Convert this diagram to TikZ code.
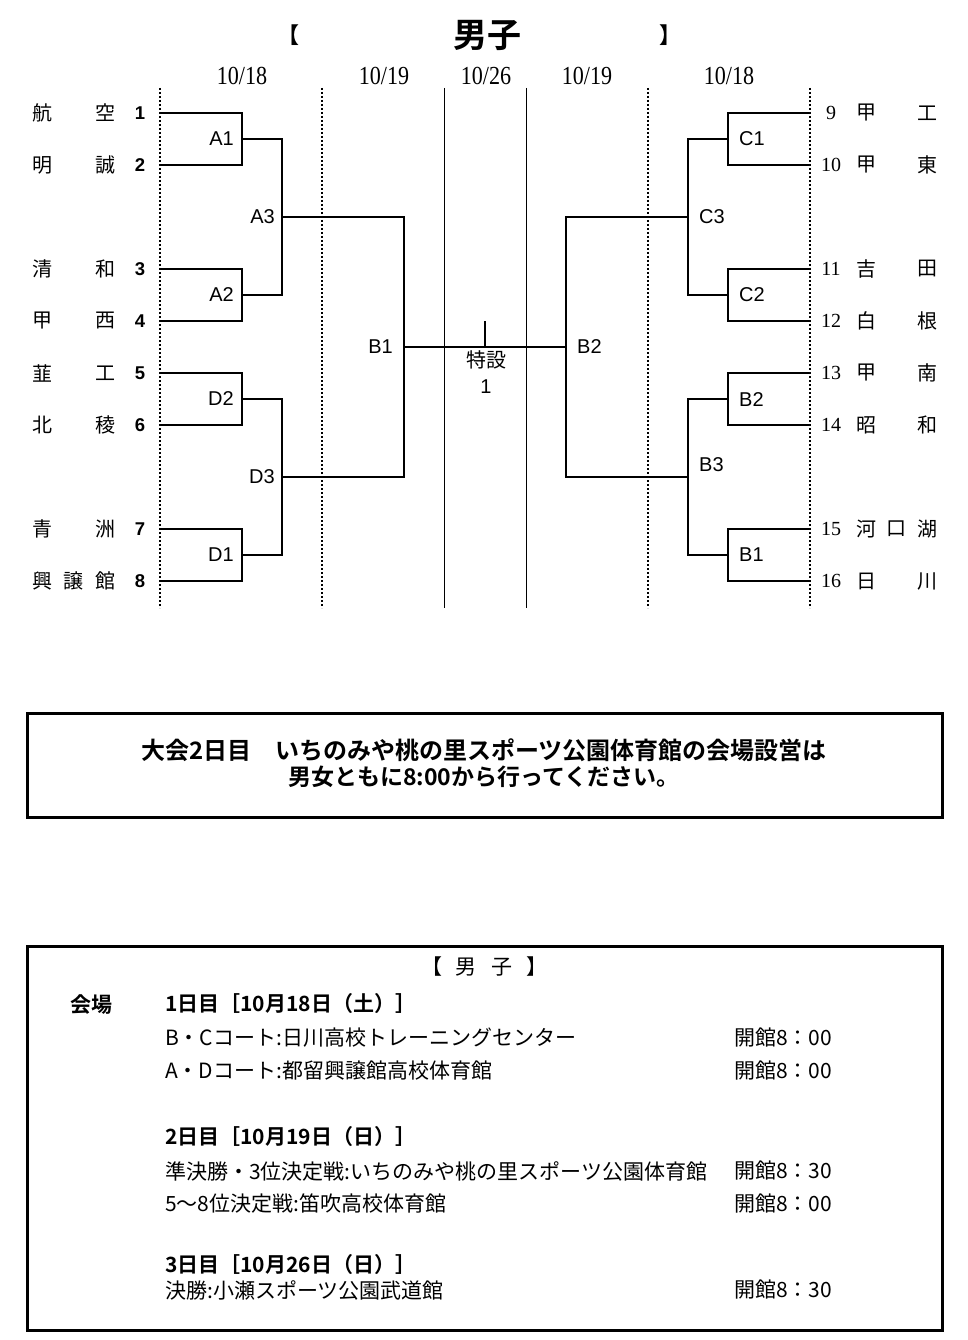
\documentclass[tikz,border=0pt]{standalone}
\usepackage{fontspec}
\setmainfont{Liberation Serif}
\setsansfont{Liberation Sans}
\newfontfamily\jp{Noto Sans CJK JP}
\newfontfamily\jpb{Noto Sans CJK JP Bold}
\begin{document}
\begin{tikzpicture}[x=1pt,y=-1pt,
  br/.style={line width=2.5pt},
  dotln/.style={line width=2pt, dash pattern=on 2pt off 2pt},
  thinln/.style={line width=1pt},
  team/.style={font=\jp\fontsize{20}{20}\selectfont, inner sep=0pt},
  numL/.style={font=\sffamily\bfseries\fontsize{18.5}{18.5}\selectfont, inner sep=0pt},
  numR/.style={font=\rmfamily\fontsize{20}{20}\selectfont, inner sep=0pt},
  lab/.style={font=\sffamily\fontsize{20}{20}\selectfont, inner sep=0pt},
  datel/.style={font=\rmfamily\fontsize{26}{26}\selectfont, inner sep=0pt},
  boxtxt/.style={font=\jpb\fontsize{23}{27}\selectfont, inner sep=0pt, align=center},
  body/.style={font=\jp\fontsize{21}{21}\selectfont, inner sep=0pt, anchor=west},
  head/.style={font=\jpb\fontsize{21}{21}\selectfont, inner sep=0pt, anchor=west},
  frame/.style={line width=3pt}
]
\useasboundingbox (0,0) rectangle (968,1340);

% title
\node[font=\jpb\fontsize{22}{22}\selectfont, inner sep=0pt] (tl) at (288,35) {【};
\node[font=\jpb\fontsize{34}{34}\selectfont, inner sep=0pt] (title) at (487,35) {男子};
\node[font=\jpb\fontsize{22}{22}\selectfont, inner sep=0pt] (tr) at (670,35) {】};

% dates
\node[datel] (d1) at (242,76) {\scalebox{0.85}[1]{10/18}};
\node[datel] (d2) at (384,76) {\scalebox{0.85}[1]{10/19}};
\node[datel] (d3) at (486,76) {\scalebox{0.85}[1]{10/26}};
\node[datel] (d4) at (587,76) {\scalebox{0.85}[1]{10/19}};
\node[datel] (d5) at (729,76) {\scalebox{0.85}[1]{10/18}};

% column separators
\coordinate (v1t) at (160,88); \coordinate (v1b) at (160,608);
\coordinate (v2t) at (322,88); \coordinate (v2b) at (322,608);
\coordinate (v3t) at (444,88); \coordinate (v3b) at (444,608);
\coordinate (v4t) at (526,88); \coordinate (v4b) at (526,608);
\coordinate (v5t) at (648,88); \coordinate (v5b) at (648,608);
\coordinate (v6t) at (810,88); \coordinate (v6b) at (810,608);
\draw[dotln] (v1t) -- (v1b);
\draw[dotln] (v2t) -- (v2b);
\draw[thinln] (v3t) -- (v3b);
\draw[thinln] (v4t) -- (v4b);
\draw[dotln] (v5t) -- (v5b);
\draw[dotln] (v6t) -- (v6b);

% left teams
\foreach \n/\y/\a/\b in {1/113/航/空, 2/165/明/誠, 3/269/清/和, 4/321/甲/西, 5/373/韮/工, 6/425/北/稜, 7/529/青/洲, 8/581/興/館}{
  \node[team] (L\n a) at (42,\y) {\a};
  \node[team] (L\n b) at (105,\y) {\b};
  \node[numL] (L\n) at (140,\y) {\n};
  \coordinate (p\n) at (160,\y);
}
\node[team] (L8m) at (73,581) {譲};

% right teams
\foreach \n/\y/\a/\b in {9/113/甲/工, 10/165/甲/東, 11/269/吉/田, 12/321/白/根, 13/373/甲/南, 14/425/昭/和, 15/529/河/湖, 16/581/日/川}{
  \node[numR] (R\n) at (831,\y) {\n};
  \node[team] (R\n a) at (866,\y) {\a};
  \node[team] (R\n b) at (927,\y) {\b};
  \coordinate (p\n) at (810,\y);
}
\node[team] (R15m) at (896,529) {口};

% match points
\coordinate (mA1) at (242,139);
\coordinate (mA2) at (242,295);
\coordinate (mD2) at (242,399);
\coordinate (mD1) at (242,555);
\coordinate (mA3) at (282,217);
\coordinate (mD3) at (282,477);
\coordinate (mB1) at (404,347);
\coordinate (mC1) at (728,139);
\coordinate (mC2) at (728,295);
\coordinate (mB2s) at (728,399);
\coordinate (mB1s) at (728,555);
\coordinate (mC3) at (688,217);
\coordinate (mB3) at (688,477);
\coordinate (mB2) at (566,347);
\coordinate (tick) at (485,321);

% left bracket
\draw[br] (p1) -| (mA1) |- (p2);
\draw[br] (p3) -| (mA2) |- (p4);
\draw[br] (p5) -| (mD2) |- (p6);
\draw[br] (p7) -| (mD1) |- (p8);
\draw[br] (mA1) -| (mA3) |- (mA2);
\draw[br] (mD2) -| (mD3) |- (mD1);
\draw[br] (mA3) -| (mB1) |- (mD3);
% right bracket
\draw[br] (p9) -| (mC1) |- (p10);
\draw[br] (p11) -| (mC2) |- (p12);
\draw[br] (p13) -| (mB2s) |- (p14);
\draw[br] (p15) -| (mB1s) |- (p16);
\draw[br] (mC1) -| (mC3) |- (mC2);
\draw[br] (mB2s) -| (mB3) |- (mB1s);
\draw[br] (mC3) -| (mB2) |- (mB3);
% final
\draw[br] (mB1) -- (mB2);
\draw[line width=2pt] (tick) -- (tick |- mB1);

% labels
\node[lab, anchor=east] (lA1) at (234,139) {A1};
\node[lab, anchor=east] (lA2) at (234,295) {A2};
\node[lab, anchor=east] (lA3) at (275,217) {A3};
\node[lab, anchor=east] (lD2) at (234,399) {D2};
\node[lab, anchor=east] (lD1) at (234,555) {D1};
\node[lab, anchor=east] (lD3) at (275,477) {D3};
\node[lab, anchor=east] (lB1) at (393,347) {B1};
\node[lab, anchor=west] (lB2) at (577,347) {B2};
\node[lab, anchor=west] (lC1) at (739,139) {C1};
\node[lab, anchor=west] (lC2) at (739,295) {C2};
\node[lab, anchor=west] (lC3) at (699,217) {C3};
\node[lab, anchor=west] (lB2s) at (739,400) {B2};
\node[lab, anchor=west] (lB1s) at (739,555) {B1};
\node[lab, anchor=west] (lB3) at (699,465) {B3};
\node[team] (toku) at (486,360) {特設};
\node[lab] (toku1) at (486,387) {1};

% notice box
\draw[frame] (27,713) rectangle (942,817);
\node[boxtxt, font=\jpb\fontsize{24}{24}\selectfont] (n1) at (484,750) {大会2日目　いちのみや桃の里スポーツ公園体育館の会場設営は};
\node[boxtxt] (n2) at (484,777) {男女ともに8:00から行ってください。};

% schedule box
\draw[frame] (27,946) rectangle (942,1330);
\node[font=\jp\fontsize{21}{21}\selectfont, inner sep=0pt] (sh) at (484,967) {【\hspace{14pt}男\hspace{14pt}子\hspace{14pt}】};
\node[head] (kai) at (70,1005) {会場};
\node[head] (h1) at (165,1004) {1日目［10月18日（土）］};
\node[body] (s1) at (165,1038) {B・Cコート:日川高校トレーニングセンター};
\node[body] (t1) at (734,1038) {開館8：00};
\node[body] (s2) at (165,1071) {A・Dコート:都留興譲館高校体育館};
\node[body] (t2) at (734,1071) {開館8：00};
\node[head] (h2) at (165,1137) {2日目［10月19日（日）］};
\node[body] (s3) at (165,1171) {準決勝・3位決定戦:いちのみや桃の里スポーツ公園体育館};
\node[body] (t3) at (734,1171) {開館8：30};
\node[body] (s4) at (165,1204) {5～8位決定戦:笛吹高校体育館};
\node[body] (t4) at (734,1204) {開館8：00};
\node[head] (h3) at (165,1265) {3日目［10月26日（日）］};
\node[body] (s5) at (165,1290) {決勝:小瀬スポーツ公園武道館};
\node[body] (t5) at (734,1290) {開館8：30};
\end{tikzpicture}
\end{document}
